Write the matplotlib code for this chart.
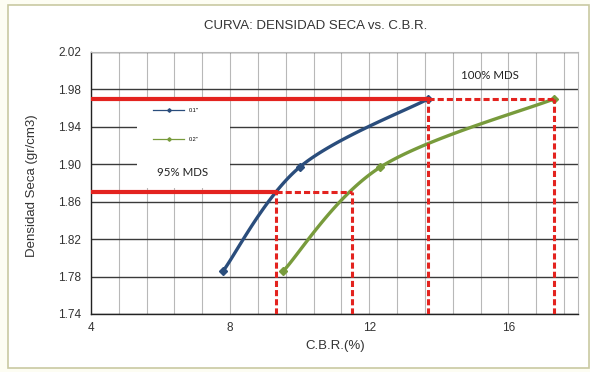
import numpy as np
import matplotlib
matplotlib.use("Agg")
import matplotlib.pyplot as plt
from matplotlib.patches import Rectangle
from matplotlib.lines import Line2D
from matplotlib.ticker import MultipleLocator, FixedLocator

# CBR test results: dry density vs. CBR for 0.1" and 0.2" penetration
cbr_01 = [7.8, 10.0, 13.7]
dens_01 = [1.786, 1.897, 1.97]
cbr_02 = [9.53, 12.32, 17.32]
dens_02 = [1.786, 1.897, 1.97]

mds_100 = 1.97
mds_95 = 1.87
cbr95_01, cbr95_02 = 9.32, 11.51
cbr100_01, cbr100_02 = 13.7, 17.32

series_labels = ['0.1"', '0.2"']
x_ticks = [4, 8, 12, 16]
y_ticks = [1.74, 1.78, 1.82, 1.86, 1.90, 1.94, 1.98, 2.02]
title = "CURVA: DENSIDAD SECA vs. C.B.R."
xlabel = "C.B.R.(%)"
ylabel = "Densidad Seca (gr/cm3)"

XLIM = (4, 18)
YLIM = (1.74, 2.02)

plt.rcParams['font.family'] = ['Liberation Sans', 'DejaVu Sans']

fig = plt.figure(figsize=(5.9, 3.72), dpi=100)
fig.patch.set_facecolor('#fdfdf3')
# framed white chart area
fig.add_artist(Rectangle((8 / 590, 1 - 368 / 372), 581 / 590, 363 / 372,
                         transform=fig.transFigure, facecolor='white',
                         edgecolor='#c9c9a2', linewidth=1.2, zorder=0))

ax = fig.add_axes([91 / 590, 58 / 372, 487 / 590, 262 / 372])
ax.set_xlim(*XLIM)
ax.set_ylim(*YLIM)
ax.set_facecolor('none')

ax.xaxis.set_major_locator(FixedLocator(x_ticks))
ax.xaxis.set_minor_locator(MultipleLocator(0.8))
ax.yaxis.set_major_locator(FixedLocator(y_ticks))
ax.set_yticklabels([f"{v:.2f}" for v in y_ticks])
ax.set_xticklabels([str(v) for v in x_ticks])
ax.grid(axis='x', which='both', color='#b8b8b8', linewidth=0.8, zorder=0)
ax.grid(axis='y', which='major', color='#3a3a3a', linewidth=1.0, zorder=0)
ax.tick_params(which='both', length=0, labelsize=8.5, colors='#333333', pad=6)
ax.tick_params(axis='y', pad=7)
for s in ['top', 'right']:
    ax.spines[s].set_color('#b8b8b8')
    ax.spines[s].set_linewidth(0.8)
for s in ['left', 'bottom']:
    ax.spines[s].set_color('#222222')
    ax.spines[s].set_linewidth(1.0)


def smooth(xs, ys, n=60):
    """Excel-like smoothed curve (cubic Bezier through the points)."""
    sx = (XLIM[1] - XLIM[0])
    sy = (YLIM[1] - YLIM[0]) * 487 / 262
    p = np.column_stack([(np.array(xs) - XLIM[0]) / sx,
                         (np.array(ys) - YLIM[0]) / sy])
    pts = np.vstack([p[0], p, p[-1]])
    out = []
    for i in range(1, len(pts) - 2):
        p0, p1, p2, p3 = pts[i - 1], pts[i], pts[i + 1], pts[i + 2]
        c1 = p1 + (p2 - p0) / 6
        c2 = p2 - (p3 - p1) / 6
        t = np.linspace(0, 1, n)[:, None]
        seg = ((1 - t) ** 3) * p1 + 3 * ((1 - t) ** 2) * t * c1 \
            + 3 * (1 - t) * t ** 2 * c2 + t ** 3 * p2
        out.append(seg if i == 1 else seg[1:])
    c = np.vstack(out)
    return c[:, 0] * sx + XLIM[0], c[:, 1] * sy + YLIM[0]


blue = '#2a4d7c'
green = '#789b3c'
red = '#e3231f'

bx, by = smooth(cbr_01, dens_01)
gx, gy = smooth(cbr_02, dens_02)
ax.plot(bx, by, color=blue, lw=2.4, zorder=3, solid_capstyle='round')
ax.plot(cbr_01, dens_01, ls='none', marker='D', ms=4, color=blue, zorder=3)
ax.plot(gx, gy, color=green, lw=2.4, zorder=3, solid_capstyle='round')
ax.plot(cbr_02, dens_02, ls='none', marker='D', ms=4, color=green, zorder=3)

# MDS reference lines
dash = (0, (2.0, 1.0))
ax.plot([XLIM[0], cbr100_01], [mds_100, mds_100], color=red, lw=3.0, zorder=5)
ax.plot([cbr100_01, cbr100_02], [mds_100, mds_100], color=red, lw=2.2,
        ls=dash, zorder=5)
ax.plot([XLIM[0], cbr95_01], [mds_95, mds_95], color=red, lw=3.0, zorder=5)
ax.plot([cbr95_01, cbr95_02], [mds_95, mds_95], color=red, lw=2.2,
        ls=dash, zorder=5)
for xv, yv in [(cbr95_01, mds_95), (cbr95_02, mds_95),
               (cbr100_01, mds_100), (cbr100_02, mds_100)]:
    ax.plot([xv, xv], [YLIM[0], yv], color=red, lw=2.2, ls=dash, zorder=5)

# legend box
ax.add_patch(Rectangle((0.0945, 0.482), 0.19, 0.335, transform=ax.transAxes,
                       facecolor='white', edgecolor='none', zorder=2))
handles = [Line2D([0], [0], color=blue, lw=0.9, marker='D', ms=1.8),
           Line2D([0], [0], color=green, lw=0.9, marker='D', ms=1.8)]
ax.legend(handles, series_labels, loc='upper left',
          bbox_to_anchor=(0.128, 0.785), frameon=False, fontsize=4,
          handlelength=5.5, handletextpad=0.8, labelspacing=4.2,
          borderaxespad=0, borderpad=0)
ax.text(0.188, 0.54, "95% MDS", transform=ax.transAxes, ha='center',
        va='center', fontsize=8.3, family=['Lato', 'DejaVu Sans'],
        color='#222222', zorder=6)
ax.text(0.82, 0.912, "100% MDS", transform=ax.transAxes, ha='center',
        va='center', fontsize=8.3, family=['Lato', 'DejaVu Sans'],
        color='#222222', zorder=6)

fig.text(316 / 590, 1 - 26 / 372, title, ha='center', va='center',
         fontsize=9.5, color='#333333')
fig.text(305 / 590, 1 - 346 / 372, xlabel, ha='left', va='center',
         fontsize=9.5, color='#333333')
fig.text(32 / 590, 1 - 186 / 372, ylabel, ha='center', va='center',
         rotation=90, fontsize=9.5, color='#333333')

fig.savefig("out.png", dpi=100, facecolor=fig.get_facecolor())
